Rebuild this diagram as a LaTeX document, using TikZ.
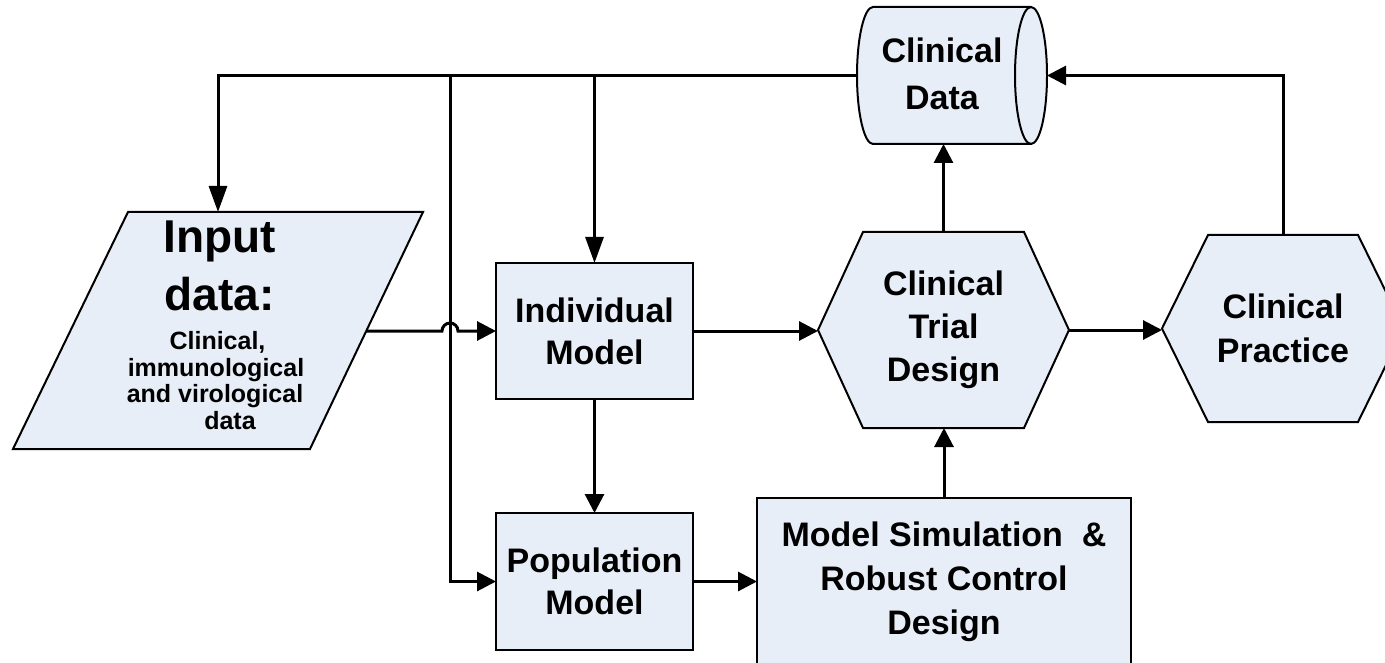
\documentclass[tikz,border=0pt]{standalone}
\usepackage{fontspec}
\setmainfont{Liberation Sans}
\usetikzlibrary{arrows.meta,backgrounds,calc}
\definecolor{boxfill}{RGB}{232,238,247}
\tikzset{
  conn/.style={line width=3pt, -{Triangle[length=19pt,width=19pt]}},
  connlong/.style={line width=3pt, -{Triangle[length=26pt,width=18pt]}},
  shapeline/.style={draw=black, line width=2pt, fill=boxfill, line join=miter},
  boxnode/.style={shapeline, rectangle, outer sep=0pt, inner sep=0pt, align=center, font=\bfseries\fontsize{34}{42}\selectfont},
  anchorbox/.style={rectangle, draw=none, outer sep=0pt, inner sep=0pt, align=center, font=\bfseries\fontsize{34}{43}\selectfont},
  bigtxt/.style={anchor=base, inner sep=0pt, font=\bfseries\fontsize{46}{50}\selectfont},
  smalltxt/.style={anchor=base, inner sep=0pt, font=\bfseries\fontsize{25}{27}\selectfont},
}
\begin{document}
\begin{tikzpicture}[x=1pt,y=-1pt]
\clip (0,0) rectangle (1385,663);
% ---- nodes
\node[boxnode, minimum width=197pt, minimum height=136pt] (ib) at (594.5,331) {Individual\\Model};
\node[boxnode, minimum width=197pt, minimum height=137pt] (pm) at (594.5,581.5) {Population\\Model};
\node[boxnode, minimum width=374pt, minimum height=167pt, font=\bfseries\fontsize{34}{44}\selectfont] (ms) at (944,581.5) {Model Simulation \ \&\\Robust Control\\Design};
\node[anchorbox, minimum width=251pt, minimum height=196pt] (ctd) at (943.5,330) {Clinical\\Trial\\Design};
\node[anchorbox, minimum width=242pt, minimum height=187pt, font=\bfseries\fontsize{34}{44}\selectfont] (cp) at (1283,328.5) {Clinical\\Practice};
\node[anchorbox, minimum width=190pt, minimum height=137pt] (cd) at (952,75.5) {};
\node[anchorbox, font=\bfseries\fontsize{34}{47}\selectfont] (cdtext) at (942,74) {Clinical\\Data};
\node[anchorbox, minimum width=410pt, minimum height=237pt] (inp) at (218,330.5) {};
\node[bigtxt] (t1) at (220,253) {Input};
\node[bigtxt] (t2) at (219.5,310) {data:};
\node[smalltxt] (t3) at (217.5,349) {Clinical,};
\node[smalltxt] (t4) at (216,376) {immunological};
\node[smalltxt] (t5) at (215,402) {and virological};
\node[smalltxt] (t6) at (230,429) {data};
% ---- shapes behind
\begin{pgfonlayer}{background}
  \draw[shapeline] (128,212) -- (423,212) -- (310,449) -- (13,449) -- cycle;
  \draw[shapeline] (ctd.west) -- ([xshift=45pt]ctd.north west) -- ([xshift=-45pt]ctd.north east) -- (ctd.east) -- ([xshift=-45pt]ctd.south east) -- ([xshift=45pt]ctd.south west) -- cycle;
  \draw[shapeline] (cp.west) -- ([xshift=46pt]cp.north west) -- ([xshift=-46pt]cp.north east) -- (cp.east) -- ([xshift=-46pt]cp.south east) -- ([xshift=46pt]cp.south west) -- cycle;
  \draw[shapeline] (873,7) -- (1031,7) arc[start angle=90,end angle=-90,x radius=16pt,y radius=68.5pt] -- (873,144) arc[start angle=270,end angle=90,x radius=16pt,y radius=68.5pt] -- cycle;
  \draw[line width=2pt] (1031,7) arc[start angle=90,end angle=270,x radius=16pt,y radius=68.5pt];
\end{pgfonlayer}
% ---- connectors
\coordinate (hop) at (450,331);
\coordinate (inpE) at (366.3,331);
\draw[connlong] (cd.west) -| (inp.north);
\draw[connlong] (cd.west -| ib.north) -- (ib.north);
\draw[conn] (hop |- cd.west) |- (pm.west);
\draw[conn] (inpE) -- ([xshift=-8pt]hop) arc[start angle=180,end angle=0,radius=8pt] -- (ib.west);
\draw[conn] (ib.south) -- (pm.north);
\draw[conn] (ib.east) -- (ib.east -| ctd.west);
\draw[conn] (ctd.east) -- (ctd.east -| cp.west);
\draw[conn] (ms.north) -- (ms.north |- ctd.south);
\draw[conn] (ctd.north) -- (ctd.north |- cd.south);
\draw[conn] (cp.north) |- (cd.east);
\draw[conn] (pm.east) -- (pm.east -| ms.west);
\end{tikzpicture}
\end{document}
